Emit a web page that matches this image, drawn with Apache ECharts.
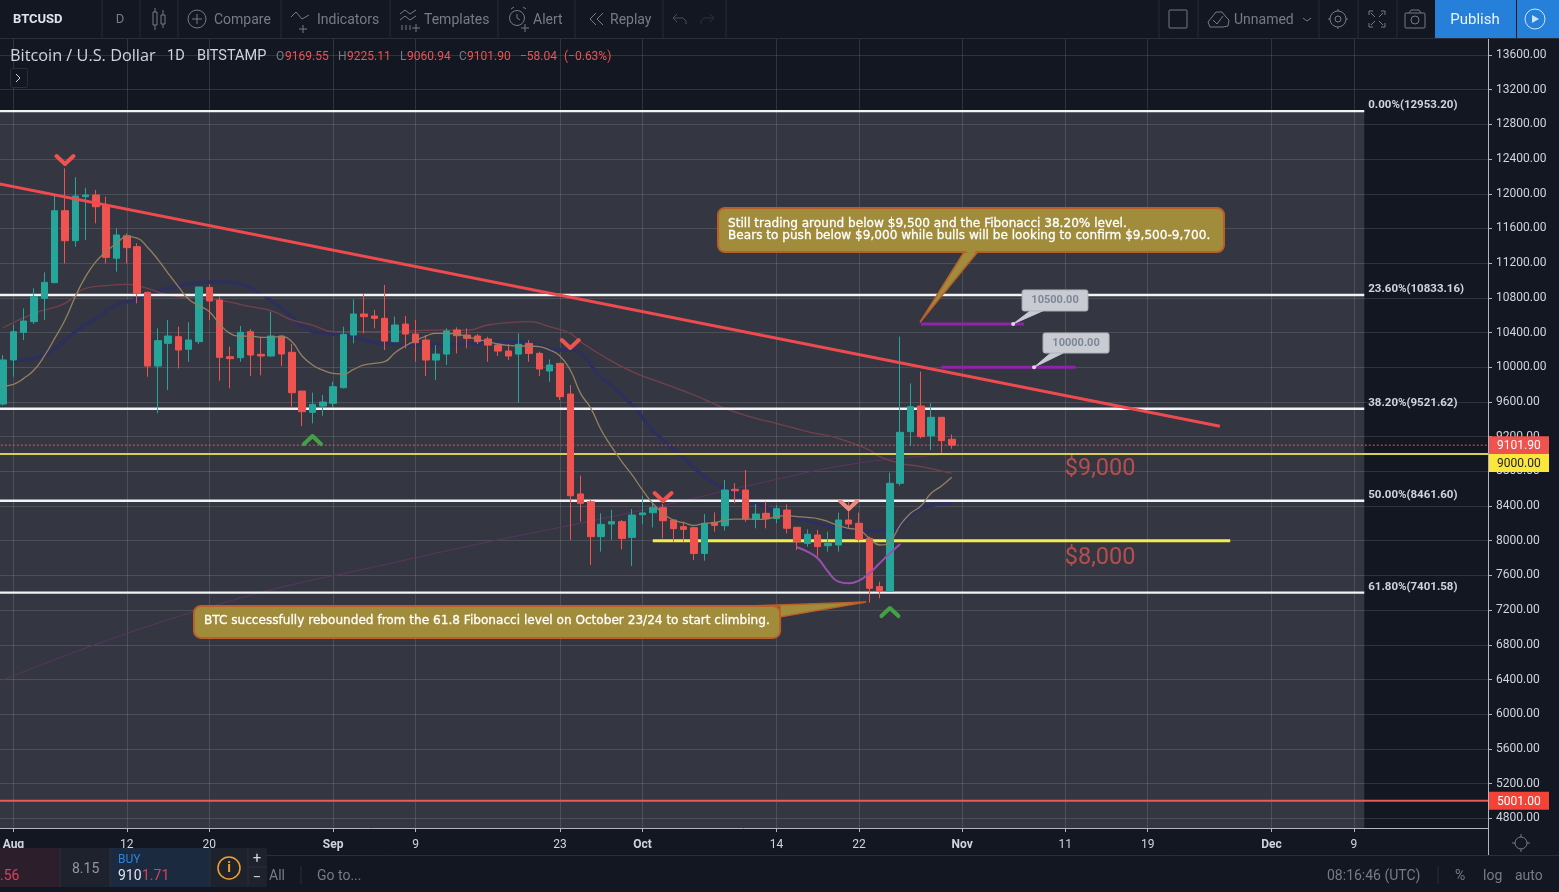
<!DOCTYPE html>
<html><head><meta charset="utf-8">
<style>html,body{margin:0;padding:0;background:#131722;overflow:hidden}#c{width:1559px;height:892px}</style>
<script src="https://cdn.jsdelivr.net/npm/echarts@6/dist/echarts.min.js"></script>
</head><body><div id="c"></div>
<script>
// ---------- DATA ----------
const opens=[9576,10084,10403,10526,10795,10975,11805,11459,11967,11986,11871,11256,11517,11390,10864,10014,10276,10353,10207,10295,10921,10775,10122,10110,10410,10149,10130,10360,10172,9726,9480,9553,9584,9764,10372,10614,10591,10564,10295,10498,10383,10314,10083,10152,10429,10372,10360,10326,10256,10187,10152,10276,10160,9957,10045,9691,8539,8450,8047,8193,8220,8039,8300,8323,8381,8239,8162,8150,7854,8212,8173,8592,8585,8246,8316,8255,8354,8155,7970,8066,7943,7951,8239,8201,8028,7471,7421,8662,9258,9553,9208,9423,9169.55];
const closes=[10084,10410,10533,10814,10979,11805,11459,11974,11986,11851,11267,11525,11379,10852,10014,10307,10360,10199,10314,10925,10764,10114,10099,10403,10141,10130,10360,10153,9707,9488,9572,9599,9776,10379,10614,10583,10564,10302,10487,10383,10283,10083,10152,10418,10364,10333,10295,10256,10187,10130,10264,10160,9980,10026,9661,8519,8431,8047,8189,8220,8027,8296,8320,8381,8231,8139,8131,7854,8200,8177,8585,8577,8250,8308,8255,8370,8143,7989,8074,7932,7970,8239,8193,8016,7451,7424,8662,9250,9546,9200,9423,9154,9101.9];
const lows=[9560,9891,10314,10499,10545,10975,11198,11390,11467,11659,11198,11102,11198,10737,9891,9469,9738,9987,10064,10268,10545,9845,9757,10064,9899,9907,10122,10014,9545,9322,9353,9442,9545,9757,10276,10391,10448,10199,10295,10218,10064,9899,9853,10026,10160,10218,10268,10064,10129,10083,9591,10064,9899,9834,9622,8008,8220,7720,7874,8008,7901,7708,8189,8154,8027,7989,7989,7778,7770,8104,8116,8431,8220,8143,8143,8201,8085,7893,7932,7817,7874,7874,8143,7989,7286,7336,7413,8635,9092,9181,9046,9015,9060.94];
const highs=[10141,10487,10679,10910,11094,11974,12293,12190,12070,12044,11967,11602,11544,11429,10871,10449,10545,10468,10518,10925,10956,10814,10237,10476,10441,10353,10641,10372,10268,9726,9707,9680,9834,10468,10783,10844,10660,10948,10583,10591,10545,10372,10256,10448,10460,10448,10383,10352,10268,10268,10391,10314,10180,10091,10045,9795,8750,8469,8316,8354,8239,8366,8519,8431,8423,8239,8220,8162,8308,8327,8700,8662,8815,8423,8451,8412,8420,8155,8131,8124,8104,8324,8451,8324,8047,7528,8785,10353,9815,9949,9584,9423,9225.11];
const emaFast=[9784,9803,9872,9968,10130,10333,10545,10814,11044,11217,11333,11429,11506,11490,11383,11244,11083,10929,10783,10710,10641,10499,10391,10360,10360,10345,10345,10353,10295,10130,10026,9968,9930,9922,9976,10026,10045,10064,10168,10245,10306,10360,10391,10391,10383,10352,10322,10295,10268,10252,10245,10245,10237,10199,10130,9968,9699,9526,9276,9084,8911,8758,8585,8431,8316,8239,8208,8177,8200,8208,8239,8250,8250,8246,8250,8278,8289,8278,8270,8255,8220,8174,8143,8124,8028,7951,7989,8181,8316,8401,8547,8631,8731];
const maBlue=[null,10076,null,10103,null,10218,null,10410,null,10564,null,10718,null,10783,10845,null,10910,null,10960,10975,null,10987,null,10960,null,10845,null,10679,10583,10468,null,10391,null,10372,null,null,null,10270,null,null,10256,null,null,null,null,10270,null,null,null,null,10295,null,null,null,10199,10199,null,null,9891,null,null,9565,null,9276,null,null,8950,null,8738,null,8596,null,8480,null,null,null,8300,null,null,null,8170,null,null,null,8116,null,8124,null,null,8374,null,null,8431];
const maRed=[10456,null,null,10622,null,null,10737,null,10910,null,10941,null,10956,null,10910,null,10833,null,null,10795,null,10775,null,null,10698,null,10652,null,10545,null,10487,null,10410,null,null,null,null,10410,null,null,null,null,10429,null,null,10429,null,10487,null,10514,null,10525,null,10468,null,10391,10295,null,10141,null,null,9949,null,null,9814,null,null,9680,null,null,9526,null,null,9411,null,9354,null,null,9258,null,null,9181,null,null,9046,8969,null,8892,null,8854,null,null,8777];
const maLong=[6394,null,null,null,null,null,null,null,null,null,null,null,null,null,null,null,null,null,null,7200,null,null,null,null,null,null,null,null,null,null,null,null,null,null,null,null,null,null,null,7777,null,null,null,null,null,null,null,null,null,null,null,null,null,null,null,null,null,null,null,null,null,null,8354,null,null,null,null,null,null,null,null,null,null,null,8681,null,null,null,null,null,null,null,null,8896,null,null,null,null,null,null,null,8988];
const maPurple=[7924,7874,7797,7643,7528,7509,7540,7624,7740,7855,7962];
const fibLevels=[12953.2,10833.16,9521.62,8461.6,7401.58];
const fibTexts=['0.00%(12953.20)','23.60%(10833.16)','38.20%(9521.62)','50.00%(8461.60)','61.80%(7401.58)'];
const yTicks=[4800,5200,5600,6000,6400,6800,7200,7600,8000,8400,8800,9200,9600,10000,10400,10800,11200,11600,12000,12400,12800,13200,13600];
const xTickLabels={'Aug 1':'Aug','Aug 12':'12','Aug 20':'20','Sep 1':'Sep','Sep 9':'9','Sep 23':'23','Oct 1':'Oct','Oct 14':'14','Oct 22':'22','Nov 1':'Nov','Nov 11':'11','Nov 19':'19','Dec 1':'Dec','Dec 9':'9'};
const monthNames=['Jul','Aug','Sep','Oct','Nov','Dec'], monthStarts=[30,1,1,1,1,1], monthEnds=[31,31,30,31,30,22];
const categories=[];
monthNames.forEach((m,k)=>{for(let d=monthStarts[k];d<=monthEnds[k];d++)categories.push(m+' '+d);});
const noteOne=['Still trading around below $9,500 and the Fibonacci 38.20% level.','Bears to push below $9,000 while bulls will be looking to confirm $9,500-9,700.'];
const noteTwo=['BTC successfully rebounded from the 61.8 Fibonacci level on October 23/24 to start climbing.'];
// markers: category index, price, direction, colour
const chevrons=[[7,12389,'down','#ef5350'],[31,9161,'up','#43a047'],[56,10268,'down','#ef5350'],[65,8504,'down','#ef5350'],[83,8411,'down','#f08a80'],[87,7178,'up','#43a047']];

// ---------- COLOURS ----------
const UP='#26a69a',DOWN='#ef5350',BG='#131722',TXT='#d1d4dc',MUTED='#787b86',FONT='Roboto';
const GOLD='#a08c3a',GOLDEDGE='#b9602a';

// ---------- SERIES ----------
const lead=a=>[null].concat(a);
const candleData=[['-','-','-','-']].concat(opens.map((o,i)=>[o,closes[i],lows[i],highs[i]]));
function hline(name,from,to,price,color,width,z,extra){
  return Object.assign({type:'line',name,data:[[from,price],[to,price]],symbol:'none',silent:true,animation:false,z:z,
    lineStyle:{color,width}},extra||{});
}
const series=[];
series.push({type:'line',name:'bg',data:[],silent:true,animation:false,z:1,
  markArea:{silent:true,animation:false,itemStyle:{color:'rgba(255,255,255,0.14)'},
    data:[[{coord:['Jul 30',12953.2]},{coord:['Dec 10',4688]}]]}});
series.push({type:'line',name:'long',data:lead(maLong),connectNulls:true,smooth:true,symbol:'none',animation:false,z:2,lineStyle:{color:'#5a3560',width:1}});
series.push({type:'line',name:'blue',data:lead(maBlue),connectNulls:true,smooth:true,symbol:'none',animation:false,z:2,lineStyle:{color:'#2d2f5c',width:3.5}});
series.push({type:'line',name:'red',data:lead(maRed),connectNulls:true,smooth:true,symbol:'none',animation:false,z:2,lineStyle:{color:'#74404c',width:1.3}});
fibLevels.forEach((p,i)=>series.push(hline('fib'+i,'Jul 30','Dec 10',p,'#f2f3f5',2.4,3,{
  endLabel:{show:true,formatter:()=>fibTexts[i],color:TXT,fontFamily:FONT,fontSize:11.5,fontWeight:'bold',distance:4,offset:[0,-6]}})));
series.push(hline('y9000','Jul 30','Dec 22',9000,'#d9cf55',2,3));
series.push(hline('y8000','Oct 2','Nov 27',8000,'#f4ec48',3,3));
series.push(hline('s5001','Jul 30','Dec 22',5001,'#e95a5a',2,3));
series.push(hline('last','Jul 30','Dec 22',9101.9,'#ef5350',1,3,{lineStyle:{color:'#ef5350',width:1,type:[2,2]}}));
series.push(hline('p10500','Oct 28','Nov 7',10500,'#8e24aa',3,3));
series.push(hline('p10000','Oct 30','Nov 12',10000,'#8e24aa',3,3));
series.push({type:'candlestick',name:'BTCUSD',data:candleData,barWidth:7,animation:false,z:5,
  itemStyle:{color:UP,color0:DOWN,borderColor:UP,borderColor0:DOWN,borderWidth:1}});
series.push({type:'line',name:'ema',data:lead(emaFast),smooth:true,symbol:'none',animation:false,z:6,lineStyle:{color:'#93805f',width:1.3}});
series.push({type:'line',name:'purple',data:categories.map((c,i)=>i>=78&&i<=88?maPurple[i-78]:null),smooth:true,symbol:'none',animation:false,z:6,lineStyle:{color:'#9a4fb0',width:2}});
series.push({type:'line',name:'trend',data:[['Jul 30',12130],['Nov 26',9320]],symbol:'none',animation:false,z:7,lineStyle:{color:'#ef4a50',width:3}});
series.push({type:'scatter',name:'levels',symbolSize:0,animation:false,z:7,silent:true,
  data:[{value:['Nov 14',8825],label:{formatter:'$9,000'}},{value:['Nov 14',7805],label:{formatter:'$8,000'}}],
  label:{show:true,position:'inside',offset:[4,0],color:'#d8534f',fontFamily:FONT,fontSize:23.5}});

// Annotation layer: positions are in chart terms (category position, price).
series.push({type:'custom',name:'notes',animation:false,z:20,silent:true,data:[[0,0]],clip:false,
  renderItem:function(params,api){
    const band=api.size([1,0])[0];
    const x0=api.coord([0,9000])[0];
    const P=(i,p)=>[x0+i*band,api.coord([0,p])[1]];
    const kids=[];
    function poly(pts,fill,stroke,lw){kids.push({type:'polygon',shape:{points:pts},style:{fill,stroke,lineWidth:lw||1}});}
    function box(l,r,t,b,fill,stroke,lw,rad){const a=P(l,t),c=P(r,b);
      kids.push({type:'rect',shape:{x:a[0],y:a[1],width:c[0]-a[0],height:c[1]-a[1],r:rad||0},style:{fill,stroke,lineWidth:lw||0}});return [a,c];}
    function text(s,x,y,fill,font,align,bold){kids.push({type:'text',style:{text:s,x,y,fill,font,textAlign:align||'left',textVerticalAlign:'middle',stroke:bold?fill:undefined,lineWidth:bold?0.3:0}});}
    const NF='12.1px "DejaVu Sans"';
    // first note
    poly([P(94.19,11329),P(95.5,11329),P(89.92,10520)],GOLD,GOLDEDGE,1.5);
    let q=box(70.33,119.4,11836,11329,GOLD,GOLDEDGE,2,7);
    poly([P(94.3,11345),P(95.4,11345),P(94.8,11300)],GOLD,GOLD,1);
    text(noteOne[0],q[0][0]+10,q[0][1]+16,'#fff',NF,'left',true);
    text(noteOne[1],q[0][0]+10,q[0][1]+28,'#fff',NF,'left',true);
    // second note
    q=box(19.51,76.35,7248,6879,GOLD,GOLDEDGE,2,7);
    poly([P(73.24,7248),P(76.35,7248),P(76.35,7121),P(84.69,7294)],GOLD,GOLDEDGE,1.5);
    text(noteTwo[0],q[0][0]+10,q[0][1]+15,'#fff',NF,'left',true);
    // price pills
    poly([P(100.6,10649),P(101.8,10649),P(98.95,10500)],'#c8ccd2','#c8ccd2',1);
    q=box(99.82,106.2,10891,10649,'#c8ccd2','#aeb3ba',1,2);
    text('10500.00',(q[0][0]+q[1][0])/2,(q[0][1]+q[1][1])/2,'#7d8795','bold 11px Roboto','center');
    poly([P(102.6,10164),P(103.8,10164),P(100.98,10000)],'#c8ccd2','#c8ccd2',1);
    q=box(101.85,108.25,10395,10164,'#c8ccd2','#aeb3ba',1,2);
    text('10000.00',(q[0][0]+q[1][0])/2,(q[0][1]+q[1][1])/2,'#7d8795','bold 11px Roboto','center');
    [P(98.95,10500),P(100.98,10000)].forEach(a=>kids.push({type:'circle',shape:{cx:a[0],cy:a[1],r:2},style:{fill:'#d8dbe0'}}));
    // chevrons
    chevrons.forEach(c=>{const a=P(c[0],c[1]);const s=c[2]==='down'?1:-1;
      kids.push({type:'polyline',shape:{points:[[a[0]-8.5,a[1]-4*s],[a[0],a[1]+4*s],[a[0]+8.5,a[1]-4*s]]},style:{stroke:c[3],lineWidth:4,fill:'none',lineCap:'round',lineJoin:'round'}});});
    // axis price flags
    const flag=(p,fill,color,s)=>{const a=P(145,p);
      kids.push({type:'rect',shape:{x:a[0]+1,y:a[1]-9,width:60,height:18},style:{fill}});
      kids.push({type:'text',style:{text:s,x:a[0]+9,y:a[1]+1,fill:color,font:'12px '+FONT,textVerticalAlign:'middle'}});};
    flag(9101.9,'#ef5350','#fff','9101.90');
    flag(8896,'#fbe73b','#222','9000.00');
    flag(5001,'#f44336','#fff','5001.00');
    return {type:'group',children:kids};
  }});

// ---------- CHROME ----------
const g=[];
const Z=100;
const T=(s,x,y,fill,size,o)=>g.push({type:'text',z:Z,silent:true,style:{text:s,x,y:y+1,fill,font:(o&&o.w?o.w+' ':'')+size+'px '+((o&&o.f)||FONT),textAlign:(o&&o.a)||'left',textVerticalAlign:'middle'}});
const L=(pts,c,w)=>g.push({type:'polyline',z:Z,silent:true,shape:{points:pts},style:{stroke:c||MUTED,lineWidth:w||1,fill:'none'}});
const R=(x,y,w,h,fill,stroke,r)=>g.push({type:'rect',z:Z,silent:true,shape:{x,y,width:w,height:h,r:r||0},style:{fill:fill||'none',stroke:stroke||'none',lineWidth:1}});
const C=(x,y,r,stroke,fill,lw)=>g.push({type:'circle',z:Z,silent:true,shape:{cx:x,cy:y,r},style:{stroke:stroke||MUTED,fill:fill||'none',lineWidth:lw||1}});
// toolbar separators
[102,140,178,281,390,498,575,663,726,1159,1198,1319,1358,1397].forEach(x=>L([[x,0],[x,38]],'#262a35'));
L([[0,38.5],[1559,38.5]],'#2a2e39');
T('BTCUSD',13,19,'#e0e3eb',13,{w:'bold'});
T('D',120,19,MUTED,13,{a:'center'});
// candle icon
R(153,12,4,13,null,MUTED);R(161,15,4,9,null,MUTED);L([[155,8],[155,12]]);L([[155,25],[155,30]]);L([[163,10],[163,15]]);L([[163,24],[163,28]]);
C(197,19,9);L([[192,19],[202,19]]);L([[197,14],[197,24]]);T('Compare',214,19,MUTED,14);
L([[291,17],[296,12],[302,19],[309,15]]);L([[303,25],[303,33]]);L([[299,29],[307,29]]);T('Indicators',317,19,MUTED,14);
L([[400,14],[405,10],[410,14],[416,10]]);L([[400,20],[405,16],[410,20],[416,16]]);L([[402,30],[402,25]]);L([[406,30],[406,25]]);L([[410,30],[410,25]]);L([[412,28],[420,28]]);L([[416,24],[416,32]]);T('Templates',424,19,MUTED,14);
C(517,18,7.5);L([[517,14],[517,18],[520,20]]);L([[511,9],[514,7]]);L([[523,7],[526,9]]);L([[521,28],[529,28]]);L([[525,24],[525,32]]);T('Alert',533,19,MUTED,14);
L([[596,13],[590,19],[596,25]]);L([[603,13],[597,19],[603,25]]);T('Replay',610,19,MUTED,14);
L([[677,14],[673,18],[677,22]],'#4a4e59');L([[673,18],[683,18],[686,21],[686,24]],'#4a4e59');
L([[710,14],[714,18],[710,22]],'#2f323c');L([[714,18],[704,18],[701,21],[701,24]],'#2f323c');
R(1169,10,18,18,null,MUTED,1);
L([[1210,27],[1208,22],[1212,17],[1216,12],[1222,12],[1226,17],[1229,20],[1228,26],[1223,27],[1210,27]]);L([[1213,20],[1217,24],[1223,16]]);
T('Unnamed',1234,19,MUTED,14);L([[1303,18],[1307,21],[1311,18]]);
C(1338,19,8);C(1338,19,3);L([[1338,9],[1338,11]]);L([[1338,27],[1338,29]]);L([[1328,19],[1330,19]]);L([[1346,19],[1348,19]]);
L([[1369,15],[1369,11],[1373,11]]);L([[1381,11],[1385,11],[1385,15]]);L([[1369,23],[1369,27],[1373,27]]);L([[1381,27],[1385,27],[1385,23]]);L([[1371,13],[1375,17]]);L([[1383,13],[1379,17]]);L([[1371,25],[1375,21]]);L([[1383,25],[1379,21]]);
R(1405,13,20,15,null,MUTED,1);C(1415,20,4);L([[1409,13],[1411,10],[1419,10],[1421,13]]);
R(1435,0,81,38,'#2680d9');R(1517,0,42,38,'#2680d9');
T('Publish',1475,19,'#eaf3fc',15,{a:'center'});
C(1535,19,10,'#cfe3f7');g.push({type:'polygon',z:Z,silent:true,shape:{points:[[1532,15],[1532,23],[1539,19]]},style:{fill:'#cfe3f7'}});
// legend
T('Bitcoin / U.S. Dollar',10,55,TXT,16.3,{f:'Open Sans'});T('1D',167,55,TXT,14.5);T('BITSTAMP',197,55,TXT,14.5);
[['O',276],['H',338],['L',400],['C',459]].forEach(a=>T(a[0],a[1],56,MUTED,12));
[['9169.55',285],['9225.11',347],['9060.94',407],['9101.90',467],['\u221258.04',520],['(\u22120.63%)',564]].forEach(a=>T(a[0],a[1],56,DOWN,12));
R(10.5,68.5,17,19,BG,'#2a2e39',2);L([[16,74],[20,78],[16,82]],TXT);
// bottom bar
L([[0,855.5],[1559,855.5]],'#2a2e39');
C(1521,843,6);L([[1521,834],[1521,837]]);L([[1521,849],[1521,852]]);L([[1512,843],[1515,843]]);L([[1527,843],[1530,843]]);
L([[1488.5,828],[1488.5,855]],'#b2b5be');
// trade widget
R(0,848,60,39,'#2c1f2b');R(60,848,50,39,'#1e222d');R(110,848,100,39,'#1b2a3f');R(210,848,38,39,'#1e222d');R(248,848,19,39,'#1e222d',null,2);
L([[60,848],[60,887]],'#2a2e39');L([[110,848],[110,887]],'#2a2e39');L([[210,848],[210,887]],'#2a2e39');L([[248,848],[248,887]],'#2a2e39');L([[248,867],[267,867]],'#2a2e39');
T('.56',0,875,'#d9415f',14);T('8.15',72,868,'#9598a1',14);T('BUY',118,859,'#2f83d8',12);
T('910',118,875,'#e0e3eb',14);T('1.71',142,875,'#d9415f',14);
C(229,868,11,'#f0a030',null,1.5);T('i',229,867,'#f0a030',14,{a:'center',w:'bold'});
T('+',257,858,TXT,15,{a:'center'});T('\u2212',257,877,TXT,15,{a:'center'});
T('All',269,875,MUTED,14);L([[301,866],[301,884]],'#2a2e39');T('Go to...',317,875,MUTED,14);
T('08:16:46 (UTC)',1327,875,MUTED,14);L([[1438,866],[1438,884]],'#2a2e39');T('%',1455,875,MUTED,14);T('log',1483,875,MUTED,14);T('auto',1515,875,MUTED,14);

// ---------- CHART ----------
const showTick=(i,v)=>xTickLabels[v]!==undefined;
const chart=echarts.init(document.getElementById('c'),null,{width:1559,height:892});
chart.setOption({
  backgroundColor:BG,animation:false,
  grid:{left:-7.2,top:38,width:1495.2,height:790,outerBoundsMode:'none'},
  xAxis:{type:'category',data:categories,boundaryGap:false,
    axisLine:{lineStyle:{color:'#b2b5be',width:1}},
    axisTick:{interval:showTick,length:4,lineStyle:{color:'#b2b5be'}},
    axisLabel:{interval:showTick,margin:11,hideOverlap:false,fontFamily:FONT,fontSize:12,color:TXT,
      formatter:v=>{const s=xTickLabels[v];return /[a-z]/.test(s)?'{m|'+s+'}':s;},rich:{m:{fontWeight:'bold',color:TXT,fontFamily:FONT,fontSize:12}}},
    splitLine:{show:true,interval:showTick,lineStyle:{color:'rgba(255,255,255,0.12)',width:1}}},
  yAxis:{type:'value',position:'right',min:4688,max:13796,
    axisLine:{show:true,lineStyle:{color:'#b2b5be'}},
    axisTick:{show:true,length:4,customValues:yTicks,lineStyle:{color:'#b2b5be'}},
    axisLabel:{customValues:yTicks,margin:8,fontFamily:FONT,fontSize:12,color:TXT,padding:[5,0,0,0],formatter:v=>v.toFixed(2)},
    splitLine:{show:true,lineStyle:{color:'rgba(255,255,255,0.12)',width:1}}},
  series,graphic:{elements:g}
});
</script></body></html>
